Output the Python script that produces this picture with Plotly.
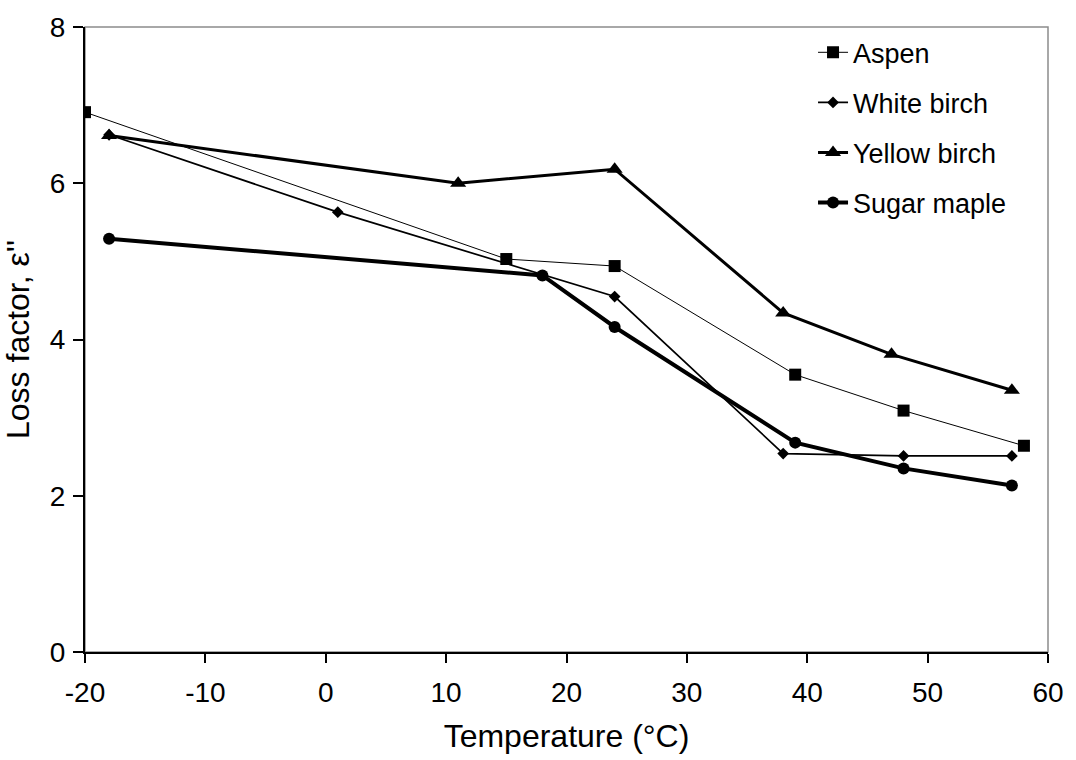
import plotly.graph_objects as go

aspen_x = [-20, 15, 24, 39, 48, 58]
aspen_y = [6.91, 5.03, 4.94, 3.55, 3.09, 2.64]
white_x = [-18, 1, 24, 38, 48, 57]
white_y = [6.62, 5.63, 4.55, 2.54, 2.51, 2.51]
yellow_x = [-18, 11, 24, 38, 47, 57]
yellow_y = [6.61, 6.00, 6.18, 4.34, 3.81, 3.35]
maple_x = [-18, 18, 24, 39, 48, 57]
maple_y = [5.29, 4.82, 4.16, 2.68, 2.35, 2.13]

x_ticks = [-20, -10, 0, 10, 20, 30, 40, 50, 60]
y_ticks = [0, 2, 4, 6, 8]

FONT = "Arial, 'Liberation Sans', sans-serif"

fig = go.Figure()
fig.add_trace(go.Scatter(x=aspen_x, y=aspen_y, name="Aspen", mode="lines+markers",
                         legendgroup="a",
                         line=dict(color="black", width=1),
                         marker=dict(symbol="square", size=12, color="black")))
fig.add_trace(go.Scatter(x=white_x, y=white_y, name="White birch", mode="lines+markers",
                         legendgroup="b",
                         line=dict(color="black", width=1.7),
                         marker=dict(symbol="diamond", size=9, color="black")))
fig.add_trace(go.Scatter(x=yellow_x, y=yellow_y, name="Yellow birch", mode="lines+markers",
                         legendgroup="c",
                         line=dict(color="black", width=3),
                         marker=dict(symbol="triangle-up", size=14, color="black")))
fig.add_trace(go.Scatter(x=maple_x, y=maple_y, name="Sugar maple", mode="lines+markers",
                         legendgroup="d",
                         line=dict(color="black", width=4),
                         marker=dict(symbol="circle", size=12, color="black")))

fig.update_layout(
    width=1076, height=760,
    margin=dict(l=85, r=24, t=22, b=108),
    paper_bgcolor="white", plot_bgcolor="white",
    font=dict(family=FONT, size=27, color="black"),
    showlegend=True,
    legend=dict(x=0.756, y=0.998, xanchor="left", yanchor="top",
                bgcolor="rgba(0,0,0,0)", borderwidth=0,
                traceorder="grouped", tracegroupgap=12,
                font=dict(family=FONT, size=27, color="black")),
    shapes=[dict(type="rect", xref="paper", yref="paper", x0=0, x1=1, y0=0, y1=1,
                 line=dict(color="#8c8c8c", width=1.5), layer="below")],
)
fig.update_xaxes(range=[-20, 60], tickvals=x_ticks, ticktext=[str(v) for v in x_ticks],
                 showgrid=False, zeroline=False, showline=True, linecolor="black", linewidth=2,
                 ticks="outside", ticklen=9, tickwidth=1.5, tickcolor="black",
                 ticklabelstandoff=5, tickfont=dict(size=28),
                 title=dict(text="Temperature (°C)", standoff=18))
fig.update_yaxes(range=[0, 8], tickvals=y_ticks, ticktext=[str(v) for v in y_ticks],
                 showgrid=False, zeroline=False, showline=True, linecolor="black", linewidth=2,
                 ticks="outside", ticklen=10, tickwidth=1.5, tickcolor="black",
                 ticklabelstandoff=2, tickfont=dict(size=28),
                 title=dict(text="Loss factor, ε''", standoff=12))

fig.write_html("out.html")
